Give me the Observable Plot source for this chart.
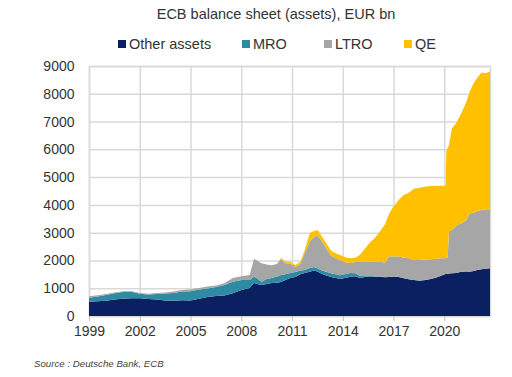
<!DOCTYPE html>
<html>
<head>
<meta charset="utf-8">
<script src="https://cdn.jsdelivr.net/npm/d3@7"></script>
<script src="https://cdn.jsdelivr.net/npm/@observablehq/plot@0.6"></script>
<style>
  html, body { margin: 0; padding: 0; background: #fff; }
  body { width: 512px; height: 377px; overflow: hidden; position: relative; font-family: "Liberation Sans", Arial, Helvetica, sans-serif; color: #333; }
  #title { position: absolute; left: 0; top: 5px; width: 512px; padding-left: 40px; box-sizing: border-box; text-align: center; font-size: 14.5px; line-height: 18px; color: #333; }
  #legend { position: absolute; left: 0; top: 35px; width: 512px; height: 18px; font-size: 14.5px; line-height: 18px; color: #333; }
  .item { position: absolute; top: 0; display: flex; align-items: center; height: 18px; }
  .sw { width: 8px; height: 8px; margin-right: 3px; }
  #chart { position: absolute; left: 0; top: 56px; }
  #source { position: absolute; left: 34px; top: 358px; font-size: 9.7px; font-style: italic; color: #444; }
</style>
</head>
<body>
<div id="title">ECB balance sheet (assets), EUR bn</div>
<div id="legend"></div>
<div id="chart"></div>
<div id="source">Source : Deutsche Bank, ECB</div>
<script>
// Series names and colours
const seriesNames = ["Other assets", "MRO", "LTRO", "QE"];
const seriesColors = ["#0a2060", "#2f8aa4", "#a6a6a6", "#ffc000"];

// Dates (decimal years)
const dates = [
  1999.0, 1999.5, 2000.0, 2000.5, 2001.0, 2001.5, 2002.0, 2002.5, 2003.0, 2003.5,
  2004.0, 2004.5, 2005.0, 2005.5, 2006.0, 2006.5, 2007.0, 2007.5, 2008.0, 2008.5,
  2008.75, 2008.95, 2009.2, 2009.5, 2009.8, 2010.1, 2010.35, 2010.6, 2010.9, 2011.2,
  2011.5, 2011.75, 2012.05, 2012.3, 2012.5, 2012.75, 2012.95, 2013.3, 2013.6, 2013.85,
  2014.2, 2014.45, 2014.75, 2015.0, 2015.3, 2015.6, 2015.85, 2016.2, 2016.5, 2016.75,
  2017.0, 2017.3, 2017.6, 2017.9, 2018.2, 2018.55, 2018.9, 2019.2, 2019.5, 2019.8,
  2020.08, 2020.12, 2020.2, 2020.27, 2020.45, 2020.7, 2021.0, 2021.3, 2021.5, 2021.75,
  2021.95, 2022.2, 2022.45, 2022.7
];

// Other assets (EUR bn)
const otherAssets = [
  515, 530, 550, 590, 620, 640, 637, 615, 590, 555,
  545, 565, 560, 620, 680, 720, 740, 817, 940, 1010,
  1190, 1150, 1117, 1150, 1190, 1200, 1225, 1300, 1370, 1400,
  1500, 1550, 1597, 1640, 1600, 1520, 1477, 1400, 1370, 1330,
  1380, 1417, 1430, 1370, 1400, 1420, 1417, 1417, 1393, 1400,
  1417, 1400, 1360, 1322, 1297, 1273, 1300, 1330, 1380, 1450,
  1513, 1518, 1522, 1528, 1537, 1550, 1590, 1600, 1597, 1620,
  1660, 1680, 1700, 1720
];

// Main refinancing operations (EUR bn)
const mro = [
  145, 170, 207, 230, 240, 230, 163, 155, 200, 255,
  285, 315, 330, 330, 310, 320, 380, 420, 360, 290,
  230, 200, 113, 180, 180, 220, 252, 200, 180, 180,
  140, 110, 133, 120, 120, 130, 123, 140, 130, 140,
  130, 133, 110, 80, 30, 20, 13, 8, 7, 5,
  3, 5, 5, 3, 3, 2, 2, 2, 2, 2,
  2, 2, 2, 2, 3, 2, 2, 2, 3, 2,
  2, 2, 2, 2
];

// Longer-term refinancing operations (EUR bn)
const ltro = [
  50, 50, 36, 30, 30, 30, 30, 30, 35, 40,
  50, 60, 60, 60, 70, 60, 60, 133, 130, 180,
  640, 640, 670, 520, 460, 450, 573, 400, 330, 180,
  240, 610, 948, 1090, 1190, 1050, 898, 640, 580, 548,
  420, 360, 400, 507, 530, 517, 520, 532, 530, 745,
  718, 745, 735, 753, 718, 743, 728, 708, 678, 626,
  563, 570, 570, 1520, 1560, 1698, 1748, 1848, 2100, 2098,
  2118, 2138, 2138, 2123
];

// Asset purchases / QE (EUR bn)
const qe = [
  0, 0, 0, 0, 0, 0, 0, 0, 0, 0,
  0, 0, 0, 0, 0, 0, 0, 0, 0, 0,
  0, 0, 0, 0, 0, 0, 40, 60, 70, 70,
  80, 110, 312, 210, 190, 180, 180, 180, 170, 182,
  170, 168, 160, 243, 460, 693, 830, 1093, 1370, 1550,
  1801, 2030, 2260, 2362, 2562, 2602, 2630, 2640, 2620, 2607,
  2612, 3860, 3966, 3100, 3650, 3700, 3960, 4250, 4380, 4680,
  4800, 4950, 4900, 4955
];

// Axis ticks
const xTicks = [1999, 2002, 2005, 2008, 2011, 2014, 2017, 2020];
const yTicks = [0, 1000, 2000, 3000, 4000, 5000, 6000, 7000, 8000, 9000];

// Long-format table for stacking
const seriesValues = [otherAssets, mro, ltro, qe];
const data = [];
dates.forEach((d, i) => {
  seriesNames.forEach((s, j) => data.push({date: d, series: s, value: seriesValues[j][i]}));
});

// Legend
const legendX = [118, 242, 324, 404];
const legend = document.getElementById("legend");
seriesNames.forEach((s, j) => {
  const it = document.createElement("div");
  it.className = "item";
  it.style.left = legendX[j] + "px";
  it.innerHTML = `<span class="sw" style="background:${seriesColors[j]}"></span><span>${s}</span>`;
  legend.appendChild(it);
});

const chart = Plot.plot({
  width: 512,
  height: 290,
  marginTop: 10,
  marginBottom: 30,
  marginLeft: 89,
  marginRight: 22,
  style: {fontFamily: "'Liberation Sans', Arial, Helvetica, sans-serif", fontSize: "14px", color: "#333", background: "#fff"},
  x: {domain: [1999, 2022.7], ticks: xTicks, tickFormat: d => String(d), label: null},
  y: {domain: [0, 9000], ticks: yTicks, tickFormat: d => String(d), label: null},
  color: {domain: seriesNames, range: seriesColors},
  marks: [
    Plot.gridY(yTicks, {stroke: "#d9d9d9", strokeOpacity: 1, strokeWidth: 1.5}),
    Plot.gridX(xTicks, {stroke: "#d9d9d9", strokeOpacity: 1, strokeWidth: 1.5}),
    Plot.frame({stroke: "#d9d9d9", strokeWidth: 1.5}),
    Plot.areaY(data, {x: "date", y: "value", fill: "series", order: seriesNames}),
    Plot.axisY(yTicks, {tickSize: 0, tickPadding: 15, label: null, fill: "#333", tickFormat: d => String(d)}),
    Plot.axisX(xTicks, {tickSize: 5, tickPadding: 5, stroke: "#bfbfbf", fill: "#333", label: null, tickFormat: d => String(d)})
  ]
});
document.getElementById("chart").appendChild(chart);
</script>
</body>
</html>
